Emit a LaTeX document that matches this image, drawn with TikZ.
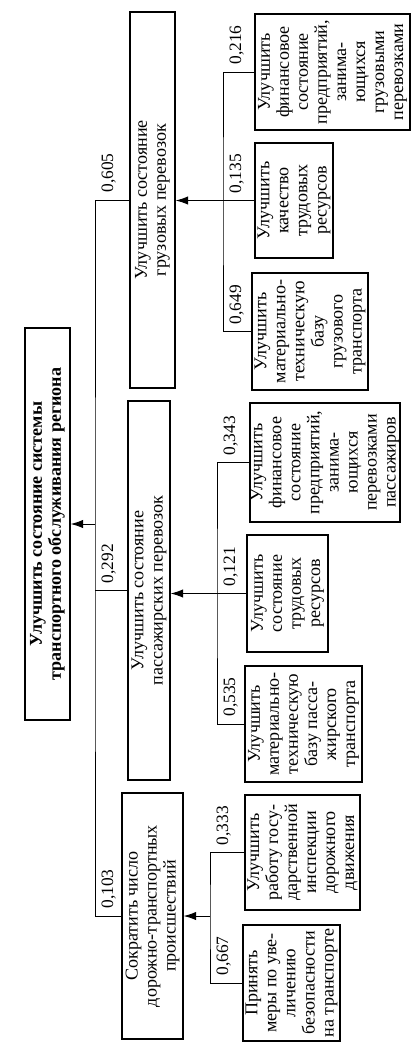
\documentclass[tikz,border=0pt]{standalone}
\usepackage{fontspec}
\setmainfont{Liberation Serif}
\usetikzlibrary{arrows.meta}

\tikzset{
  box/.style={draw, line width=0.8pt, rotate=90, align=center, inner sep=0pt,
    font=\fontsize{13}{13.7}\selectfont},
  sz/.style 2 args={minimum width=#1*0.72pt, minimum height=#2*0.72pt},
  wt/.style={xshift=4.3pt, yshift=5pt, rotate=90, anchor=north west, inner sep=0pt,
    font=\fontsize{12.5}{13}\selectfont},
  arr/.style={-{Latex[length=9pt,width=6pt]}},
}

\begin{document}
\begin{tikzpicture}[x=0.72pt, y=-0.72pt, line width=0.7pt]
    \useasboundingbox (0,0) rectangle (419,1052);

    % goal and the three groups
    \node[box, sz={392}{45}, font=\bfseries\fontsize{13}{13.7}\selectfont] (root) at (47.5,524)
        {Улучшить состояние системы\\транспортного обслуживания региона};
    \node[box, sz={376}{45}] (g1) at (152.5,200) {Улучшить состояние\\грузовых перевозок};
    \node[box, sz={379}{42}] (g2) at (149,590.5) {Улучшить состояние\\пассажирских перевозок};
    \node[box, sz={246}{61}] (g3) at (152.5,916) {Сократить число\\дорожно-транспортных\\происшествий};

    % freight
    \node[box, sz={116}{155}] (f1) at (332.5,72)
        {Улучшить\\финансовое\\состояние\\предприятий,\\занима-\\ющихся\\грузовыми\\перевозками};
    \node[box, sz={115}{78}] (f2) at (294,200.5) {Улучшить\\качество\\трудовых\\ресурсов};
    \node[box, sz={117}{116}] (f3) at (310,331.5)
        {Улучшить\\материально-\\техническую\\базу\\грузового\\транспорта};

    % passengers
    \node[box, sz={119}{150}] (p1) at (325,462.5)
        {Улучшить\\финансовое\\состояние\\предприятий,\\занима-\\ющихся\\перевозками\\пассажиров};
    \node[box, sz={117}{81}] (p2) at (287.5,593.5) {Улучшить\\состояние\\трудовых\\ресурсов};
    \node[box, sz={116}{117}] (p3) at (303.5,724)
        {Улучшить\\материально-\\техническую\\базу пасса-\\жирского\\транспорта};

    % accidents
    \node[box, sz={115}{115}] (a2) at (302.5,852.5)
        {Улучшить\\работу госу-\\дарственной\\инспекции\\дорожного\\движения};
    \node[box, sz={116}{97}] (a1) at (291.5,983)
        {Принять\\меры по уве-\\личению\\безопасности\\на транспорте};

    \coordinate (sp) at (95,590.5);
    \coordinate (c1) at (223,200.5);
    \coordinate (c2) at (217,593.5);
    \coordinate (c3) at (210,916);

    \draw (g1.north) -| (sp) |- (g3.north);
    \draw (sp) -- (g2.north);
    \draw[arr] (sp |- root.south) -- (root.south);

    \draw (f1.north) -| (c1) |- (f3.north);
    \draw[arr] (f2.north) -- (f2.north -| g1.south);

    \draw (p1.north) -| (c2) |- (p3.north);
    \draw[arr] (p2.north) -- (p2.north -| g2.south);

    \draw (a2.north) -| (c3) |- (a1.north);
    \draw[arr] (c3) -- (g3.south);

    \node[wt] (w1) at (sp |- g1.north) {0,605};
    \node[wt] (w2) at (sp |- g2.north) {0,292};
    \node[wt] (w3) at (sp |- g3.north) {0,103};
    \node[wt] (w11) at (c1 |- f1.north) {0,216};
    \node[wt] (w12) at (c1 |- f2.north) {0,135};
    \node[wt] (w13) at (c1 |- f3.north) {0,649};
    \node[wt] (w21) at (c2 |- p1.north) {0,343};
    \node[wt] (w22) at (c2 |- p2.north) {0,121};
    \node[wt] (w23) at (c2 |- p3.north) {0,535};
    \node[wt] (w31) at (c3 |- a2.north) {0,333};
    \node[wt] (w32) at (c3 |- a1.north) {0,667};
\end{tikzpicture}
\end{document}
